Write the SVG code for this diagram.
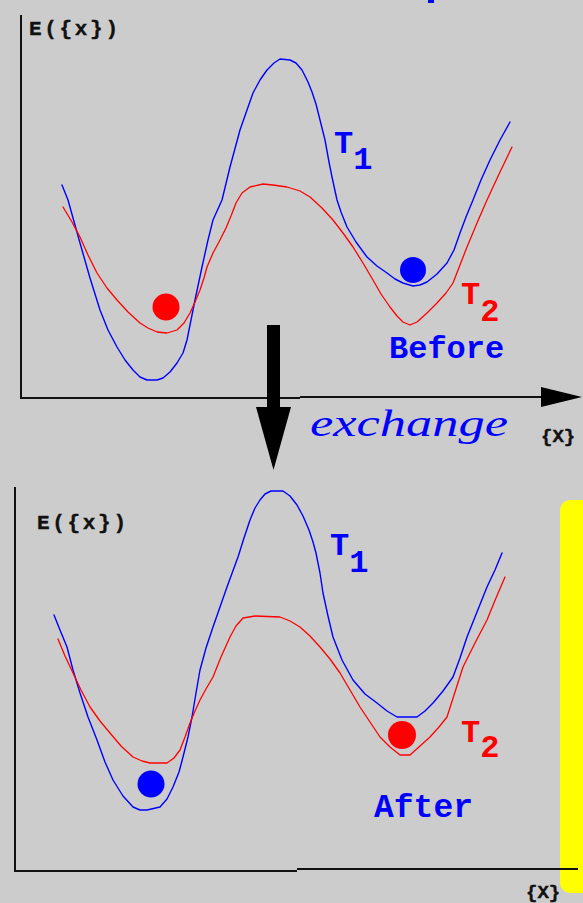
<svg xmlns="http://www.w3.org/2000/svg" width="583" height="903" viewBox="0 0 583 903">
<style>
.ax{stroke:#111;stroke-width:2;fill:none}
.b{stroke:#0000ff;stroke-width:1.4;fill:none;stroke-linejoin:round;stroke-linecap:round}
.r{stroke:#ff0000;stroke-width:1.3;fill:none;stroke-linejoin:round;stroke-linecap:round}
.lab{font-family:"Liberation Mono","Courier New",monospace;font-weight:bold}
.ax-lab{font-family:"Liberation Mono","Courier New",monospace;font-weight:bold;fill:#111;stroke:#111;stroke-width:0.4}
.ex{font-family:"Liberation Serif","DejaVu Serif",serif;font-style:italic}
</style>
<rect width="583" height="903" fill="#cccccc"/>
<rect x="428" y="0" width="6" height="3" fill="#0000ff"/>
<g id="yellow-bar"><rect x="560" y="500" width="40" height="393" rx="10" fill="#ffff00"/></g>

<g id="before">
  <path class="ax" d="M21,15 V398 H300 M300,397 H545"/>
  <polygon points="541,387 582,397 541,407" fill="#000"/>
  <text class="ax-lab" x="29" y="35" font-size="21" textLength="89" lengthAdjust="spacing">E({x})</text>
  <text class="ax-lab" x="541" y="442" font-size="19">{X}</text>
  <path class="b" d="M62,185 L68,200 L80,243 L90,278 L100,310 L108,330 L117,347 L125,360 L133,370 L140,377 L147,380 L157,380 L163,378 L170,372 L177,363 L183,353 L187,340 L191,320 L195,300 L202,267 L208,240 L213,220 L222,200 L230,167 L240,130 L247,110 L253,93 L260,80 L267,70 L274,63 L280,59 L290,60 L296,63 L302,70 L308,82 L312,92 L316,104 L320,120 L325,140 L329,162 L332,177 L337,200 L341,212 L347,227 L356,242 L367,257 L377,266 L387,273 L395,279 L403,283 L413,286 L420,285 L427,282 L437,274 L447,263 L454,250 L460,233 L466,217 L473,200 L481,180 L490,160 L500,140 L510,122"/>
  <path class="r" d="M63,207 L72,222 L80,237 L88,255 L97,273 L107,288 L117,300 L128,312 L140,323 L148,328 L157,332 L167,333 L177,330 L184,323 L190,313 L195,302 L200,290 L204,278 L207,267 L213,253 L220,240 L226,228 L231,216 L236,203 L242,193 L250,187 L263,184 L273,185 L287,187 L300,191 L310,197 L322,208 L333,220 L343,233 L353,247 L363,263 L373,280 L381,294 L390,307 L397,316 L403,322 L410,325 L417,322 L427,313 L437,303 L446,293 L453,283 L460,265 L467,247 L477,223 L487,200 L500,172 L512,147"/>
  <circle cx="166" cy="307" r="13.5" fill="#ff0000"/>
  <circle cx="413" cy="270" r="13" fill="#0000ff"/>
  <text class="lab" x="334" y="153" font-size="32" fill="#0000ff">T<tspan dy="16">1</tspan></text>
  <text class="lab" x="461" y="304" font-size="32" fill="#ff0000">T<tspan dy="17">2</tspan></text>
  <text class="lab" x="389" y="358" font-size="32" fill="#0000ff">Before</text>
</g>

<g id="after">
  <path class="ax" d="M15,487 V871 H297 M297,869 H578"/>
  <text class="ax-lab" x="37" y="529" font-size="21" textLength="89" lengthAdjust="spacing">E({x})</text>
  <text class="ax-lab" x="526" y="898" font-size="19">{X}</text>
  <path class="b" d="M54,615 L60,630 L67,647 L73,670 L80,693 L88,717 L97,740 L105,762 L113,780 L123,796 L133,807 L140,810 L147,810 L160,807 L167,799 L173,787 L179,772 L183,757 L188,737 L192,717 L196,693 L200,670 L206,648 L213,627 L220,607 L227,587 L238,557 L244,538 L250,520 L255,508 L260,500 L265,494 L271,491 L283,491 L290,496 L297,505 L303,516 L309,530 L313,542 L316,553 L320,573 L323,593 L328,616 L333,637 L342,660 L353,680 L365,694 L377,703 L387,711 L397,717 L417,717 L425,711 L433,703 L443,691 L453,677 L460,658 L467,637 L477,612 L487,587 L495,570 L502,553"/>
  <path class="r" d="M58,639 L65,656 L73,673 L81,690 L90,707 L100,721 L110,733 L121,746 L133,757 L142,761 L150,763 L167,763 L174,758 L180,750 L185,737 L190,723 L195,711 L200,700 L206,689 L213,677 L221,657 L230,637 L236,626 L243,618 L255,616 L280,617 L290,621 L300,627 L310,636 L320,647 L330,659 L340,673 L350,690 L360,707 L370,722 L380,737 L390,747 L400,755 L410,755 L420,746 L430,737 L439,727 L447,717 L455,692 L463,667 L475,643 L487,620 L496,598 L505,577"/>
  <circle cx="151" cy="784" r="13.5" fill="#0000ff"/>
  <circle cx="402" cy="735" r="14" fill="#ff0000"/>
  <text class="lab" x="330" y="555" font-size="32" fill="#0000ff">T<tspan dy="17">1</tspan></text>
  <text class="lab" x="461" y="742" font-size="32" fill="#ff0000">T<tspan dy="15">2</tspan></text>
  <text class="lab" x="374" y="817" font-size="33" fill="#0000ff">After</text>
</g>

<g id="connectors">
  <g id="exchange-arrow">
    <rect x="267" y="325" width="13" height="83" fill="#000"/>
    <polygon points="256,407 291,407 273.5,470" fill="#000"/>
    <text class="ex" x="310" y="436" font-size="38" fill="#0000ff" textLength="198" lengthAdjust="spacingAndGlyphs">exchange</text>
  </g>
</g>
</svg>
